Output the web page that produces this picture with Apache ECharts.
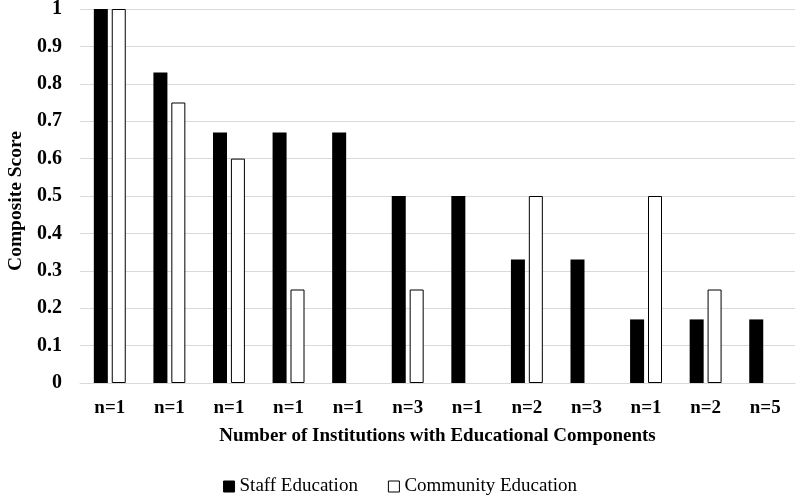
<!DOCTYPE html>
<html><head><meta charset="utf-8">
<script src="https://cdn.jsdelivr.net/npm/echarts@6/dist/echarts.min.js"></script>
<style>html,body{margin:0;padding:0;background:#fff}#c{width:800px;height:498px}</style>
</head><body><div id="c"></div>
<script>
const categories = ['n=1','n=1','n=1','n=1','n=1','n=3','n=1','n=2','n=3','n=1','n=2','n=5'];
const staffEducation = [1, 0.83, 0.67, 0.67, 0.67, 0.5, 0.5, 0.33, 0.33, 0.17, 0.17, 0.17];
const communityEducation = [1, 0.75, 0.6, 0.25, 0, 0.25, 0, 0.5, 0, 0.5, 0.25, 0];
const yTicks = [0, 0.1, 0.2, 0.3, 0.4, 0.5, 0.6, 0.7, 0.8, 0.9, 1];

const font = '"Liberation Serif","Times New Roman",serif';
const hideZero = arr => arr.map(v => v === 0 ? {value: v, itemStyle: {borderWidth: 0, color: 'rgba(0,0,0,0)'}} : v);
const chart = echarts.init(document.getElementById('c'), null, {renderer:'canvas'});
chart.setOption({
  animation: false,
  backgroundColor: '#fff',
  grid: {left: 80, right: 5, top: 9, bottom: 115, containLabel: false, outerBoundsMode: 'none'},
  legend: {
    bottom: 2, left: 'center', padding: 0, itemWidth: 11, itemHeight: 11, itemGap: 30,
    textStyle: {fontFamily: font, fontSize: 19, color: '#000'},
    data: [
      {name: 'Staff Education', icon: 'rect', itemStyle: {color: '#000', borderColor: '#000', borderWidth: 1}},
      {name: 'Community Education', icon: 'rect', itemStyle: {color: '#fff', borderColor: '#000', borderWidth: 1}}
    ]
  },
  xAxis: {
    type: 'category', data: categories,
    name: 'Number of Institutions with Educational Components',
    nameLocation: 'middle', nameGap: 44,
    nameTextStyle: {fontFamily: font, fontSize: 19, fontWeight: 'bold', color: '#000'},
    axisLine: {show: true, lineStyle: {color: '#d9d9d9', width: 1}},
    axisTick: {show: false},
    axisLabel: {fontFamily: font, fontSize: 19, fontWeight: 'bold', color: '#000', margin: 16, interval: 0}
  },
  yAxis: {
    type: 'value', min: 0, max: 1, interval: 0.1,
    name: 'Composite Score', nameLocation: 'middle', nameGap: 52, nameRotate: 90,
    nameTextStyle: {fontFamily: font, fontSize: 19.5, fontWeight: 'bold', color: '#000', padding: [0, 10, 0, 0]},
    axisLine: {show: false}, axisTick: {show: false},
    axisLabel: {fontFamily: font, fontSize: 20, fontWeight: 'bold', color: '#000', margin: 18,
      formatter: v => { const t = yTicks.find(x => Math.abs(x - v) < 1e-6); return t === undefined ? '' : String(t); }},
    splitLine: {lineStyle: {color: '#d9d9d9', width: 1}}
  },
  series: [
    {name: 'Staff Education', type: 'bar', data: staffEducation, barWidth: 14, barGap: '28%',
     itemStyle: {color: '#000', borderColor: '#000', borderWidth: 0}},
    {name: 'Community Education', type: 'bar', data: hideZero(communityEducation), barWidth: 14,
     itemStyle: {color: '#fff', borderColor: '#000', borderWidth: 1}}
  ]
});
</script></body></html>
